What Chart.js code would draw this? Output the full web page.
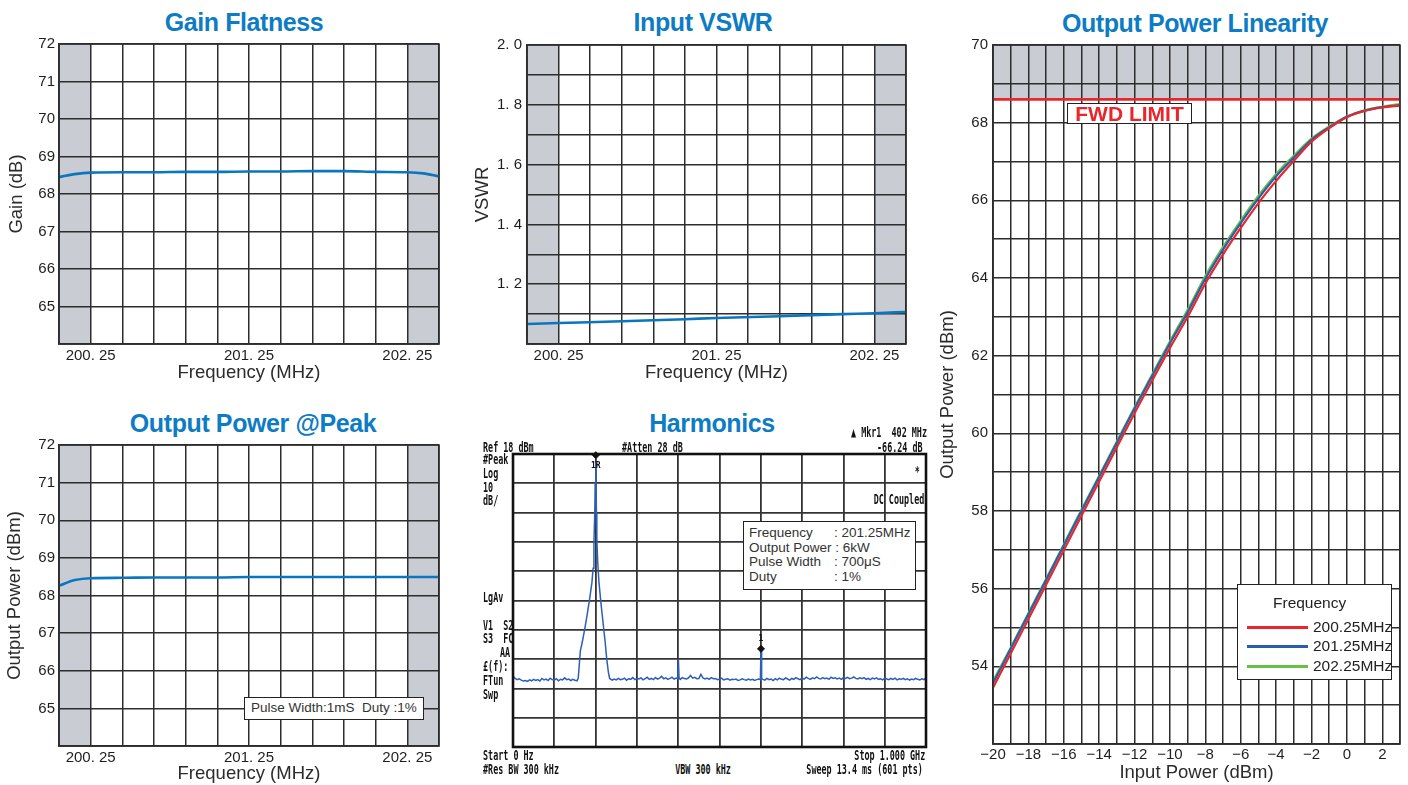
<!DOCTYPE html>
<html>
<head>
<meta charset="utf-8">
<script src="https://cdn.jsdelivr.net/npm/chart.js@4.4.1/dist/chart.umd.min.js"></script>
<style>
  body { margin: 0; width: 1408px; height: 785px; background: #fff; position: relative; overflow: hidden;
         font-family: "Liberation Sans", Arial, sans-serif; }
  canvas { position: absolute; }
  .title { position: absolute; color: #0d7cc4; font: bold 25px "Liberation Sans", Arial, sans-serif;
           letter-spacing: -0.4px; transform: translate(-50%, -50%); white-space: nowrap; }
  .box { position: absolute; background: #fff; border: 1.5px solid #222; box-sizing: border-box; }
  .sa { position: absolute; font: bold 14.5px "DejaVu Sans Mono", "Liberation Mono", monospace; color: #111;
        white-space: pre; line-height: 14px; transform: translateY(-50%) scaleX(0.58); transform-origin: left center; }
  .sa.r { transform-origin: right center; }
  .sa.c { transform: translate(-50%, -50%) scaleX(0.58); transform-origin: center center; }
  .info { font-size: 13.5px; color: #333; line-height: 14.7px; white-space: pre; }
  .info span { display: inline-block; width: 85px; }
  .lg { position: absolute; font: 15.5px "Liberation Sans", Arial, sans-serif; color: #222; line-height: 18px; }
  .lgline { position: absolute; height: 3px; width: 61px; left: 9px; }
</style>
</head>
<body>
<div class="title" style="left:244px;top:22px">Gain Flatness</div>
<div class="title" style="left:703px;top:22px">Input VSWR</div>
<div class="title" style="left:253px;top:423px">Output Power @Peak</div>
<div class="title" style="left:712px;top:423px">Harmonics</div>
<div class="title" style="left:1195px;top:23px">Output Power Linearity</div>

<canvas id="cGain" width="450" height="353" style="left:0;top:31px"></canvas>
<canvas id="cVswr" width="450" height="353" style="left:470px;top:31px"></canvas>
<canvas id="cPeak" width="450" height="353" style="left:0;top:432px"></canvas>
<canvas id="cHarm" width="437" height="317" style="left:501px;top:442px"></canvas>
<canvas id="cLin" width="471" height="753" style="left:937px;top:31px"></canvas>

<!-- spectrum analyser screen texts -->
<div class="sa" style="left:483px;top:447px">Ref 18 dBm</div>
<div class="sa" style="left:622px;top:447px">#Atten 28 dB</div>
<div class="sa r" style="right:481px;top:432px">▲ Mkr1  402 MHz</div>
<div class="sa r" style="right:485px;top:447px">-66.24 dB</div>
<div class="sa" style="left:483px;top:459px">#Peak</div>
<div class="sa" style="left:483px;top:473px">Log</div>
<div class="sa" style="left:483px;top:487px">10</div>
<div class="sa" style="left:483px;top:500px">dB/</div>
<div class="sa" style="left:483px;top:597px">LgAv</div>
<div class="sa" style="left:483px;top:625px">V1  S2</div>
<div class="sa" style="left:483px;top:638px">S3  FC</div>
<div class="sa" style="left:500px;top:652px">AA</div>
<div class="sa" style="left:483px;top:666px">£(f):</div>
<div class="sa" style="left:483px;top:680px">FTun</div>
<div class="sa" style="left:483px;top:694px">Swp</div>
<div class="sa r" style="right:488px;top:471px">*</div>
<div class="sa r" style="right:484px;top:499px">DC Coupled</div>
<div class="sa" style="left:483px;top:755px">Start 0 Hz</div>
<div class="sa" style="left:483px;top:769px">#Res BW 300 kHz</div>
<div class="sa c" style="left:703px;top:769px">VBW 300 kHz</div>
<div class="sa r" style="right:483px;top:755px">Stop 1.000 GHz</div>
<div class="sa r" style="right:485px;top:769px">Sweep 13.4 ms (601 pts)</div>

<div class="box" style="left:743px;top:521px;width:173px;height:69px;padding:4px 0 0 5px">
  <div class="info"><span>Frequency</span>: 201.25MHz</div>
  <div class="info">Output Power : 6kW</div>
  <div class="info"><span>Pulse Width</span>: 700μS</div>
  <div class="info"><span>Duty</span>: 1%</div>
</div>

<div class="box" style="left:244px;top:697px;width:180px;height:23px;padding-left:6px">
  <div class="info" style="line-height:20px">Pulse Width:1mS  Duty :1%</div>
</div>

<div class="box" style="left:1067px;top:103px;width:125px;height:21px;text-align:center;
     font:bold 21px 'Liberation Sans', Arial, sans-serif;color:#e8262b;line-height:19px">FWD LIMIT</div>

<div class="box" style="left:1237px;top:584px;width:155px;height:96px">
  <div class="lg" style="left:35px;top:9px">Frequency</div>
  <div class="lgline" style="top:41px;background:#e8262b"></div>
  <div class="lg" style="left:75px;top:33px">200.25MHz</div>
  <div class="lgline" style="top:60px;background:#2a5db0"></div>
  <div class="lg" style="left:75px;top:52px">201.25MHz</div>
  <div class="lgline" style="top:80px;background:#6abf45"></div>
  <div class="lg" style="left:75px;top:72px">202.25MHz</div>
</div>

<script>
// ---------- data ----------
// frequency sweep (MHz) for gain / output power
const sweepFreq = [200.05, 200.15, 200.25, 200.45, 200.65, 200.85, 201.05, 201.25, 201.45, 201.65, 201.85, 202.05, 202.25, 202.35, 202.45];
const gainDb = [68.45, 68.53, 68.57, 68.58, 68.58, 68.59, 68.59, 68.60, 68.60, 68.61, 68.61, 68.59, 68.58, 68.55, 68.47];
const peakDbm = [68.26, 68.41, 68.46, 68.47, 68.48, 68.48, 68.48, 68.49, 68.49, 68.49, 68.49, 68.49, 68.49, 68.49, 68.49];

const vswrFreq = [200.05, 200.25, 200.65, 201.05, 201.25, 201.65, 202.05, 202.25, 202.45];
const vswrVal = [1.067, 1.070, 1.076, 1.083, 1.087, 1.093, 1.100, 1.103, 1.107];

const freqGrid = [200.05, 200.25, 200.45, 200.65, 200.85, 201.05, 201.25, 201.45, 201.65, 201.85, 202.05, 202.25, 202.45];
const freqLabels = [200.25, 201.25, 202.25];
const outBand = [[200.05, 200.25], [202.25, 202.45]];
const dbGrid = [64, 65, 66, 67, 68, 69, 70, 71, 72];
const dbLabels = [65, 66, 67, 68, 69, 70, 71, 72];
const vswrGrid = [1.0, 1.1, 1.2, 1.3, 1.4, 1.5, 1.6, 1.7, 1.8, 1.9, 2.0];
const vswrLabels = [1.2, 1.4, 1.6, 1.8, 2.0];

// output power linearity
const inputPower = [-20, -19, -18, -17, -16, -15, -14, -13, -12, -11, -10, -9, -8, -7, -6, -5, -4, -3, -2, -1, 0, 1, 2, 3];
const out20025 = [53.45, 54.33, 55.22, 56.10, 56.99, 57.88, 58.76, 59.64, 60.52, 61.36, 62.20, 63.00, 63.86, 64.61, 65.29, 65.93, 66.50, 67.02, 67.51, 67.86, 68.14, 68.30, 68.39, 68.44];
const out20125 = [53.57, 54.45, 55.34, 56.22, 57.11, 58.00, 58.88, 59.76, 60.64, 61.48, 62.32, 63.12, 63.98, 64.73, 65.41, 66.05, 66.62, 67.10, 67.56, 67.88, 68.15, 68.31, 68.40, 68.45];
const out20225 = [53.62, 54.48, 55.37, 56.25, 57.14, 58.03, 58.91, 59.79, 60.67, 61.52, 62.37, 63.18, 64.05, 64.80, 65.48, 66.12, 66.68, 67.15, 67.59, 67.90, 68.16, 68.32, 68.41, 68.48];
const fwdLimit = 68.6;
const linYGrid = [52, 53, 54, 55, 56, 57, 58, 59, 60, 61, 62, 63, 64, 65, 66, 67, 68, 69, 70];
const linYLabels = [54, 56, 58, 60, 62, 64, 66, 68, 70];
const linXLabels = [-20, -18, -16, -14, -12, -10, -8, -6, -4, -2, 0, 2];

// harmonics trace (spectrum analyser, MHz / dBm)
const harmFreq = [
  0, 5, 10, 15, 20, 25, 30, 35, 40, 45, 50, 55, 60, 65, 70, 75, 80, 85, 90, 95, 100, 105, 110, 115, 120, 125, 130, 135, 140, 145, 150, 155,
  158, 163, 168, 174, 180, 186, 191, 194, 196, 198, 199, 200.5, 202, 203, 205, 208, 213, 218, 223, 227, 231, 234,
  240, 245, 250, 255, 260, 265, 270, 275, 280, 285, 290, 295, 300, 305, 310, 315, 320, 325, 330, 335, 340, 345, 350, 355, 360, 365, 370, 375, 380, 385, 390, 395,
  399, 400.5, 402,
  405, 410, 415, 420, 425, 430, 435, 440, 445, 450, 455, 460, 465, 470, 475, 480, 485, 490, 495, 500, 505, 510, 515, 520, 525, 530, 535, 540, 545, 550, 555, 560, 565, 570, 575, 580, 585, 590, 595,
  599, 600.5, 602,
  605, 610, 615, 620, 625, 630, 635, 640, 645, 650,
  655, 660, 665, 670, 675, 680, 685, 690, 695, 700,
  705, 710, 715, 720, 725, 730, 735, 740, 745, 750,
  755, 760, 765, 770, 775, 780, 785, 790, 795, 800,
  805, 810, 815, 820, 825, 830, 835, 840, 845, 850,
  855, 860, 865, 870, 875, 880, 885, 890, 895, 900,
  905, 910, 915, 920, 925, 930, 935, 940, 945, 950,
  955, 960, 965, 970, 975, 980, 985, 990, 995, 1000
];
const harmLevel = [
  -57.8, -58.6, -59.0, -58.7, -59.2, -59.5, -59.3, -59.6, -59.1, -59.4, -58.9, -59.3, -59.0, -59.5, -58.6, -59.1,
  -58.8, -59.3, -58.5, -59.0, -59.2, -58.7, -59.4, -58.9, -59.1, -58.4, -59.0, -58.8, -59.3, -58.9, -59.2, -59.4,
  -58.5, -49.3, -46.0, -41.5, -36.5, -31.0, -26.0, -21.0, -12.0, -2.0, 8.0, 15.0, -2.0, -11.0, -18.5, -25.5, -33.0, -39.5, -46.0, -52.0, -56.5, -58.6,
  -59.2, -58.8, -59.1, -58.6, -59.0, -58.9, -58.5, -59.2, -58.7, -58.9, -58.3, -59.0, -58.6, -58.8, -58.4, -59.1,
  -58.7, -58.2, -58.9, -58.6, -59.0, -58.3, -58.8, -58.5, -57.9, -58.7, -58.4, -58.9, -58.6, -58.2, -58.8, -58.5,
  -58.6, -52.0, -58.4,
  -58.9, -58.3, -58.6, -58.8, -58.4, -57.6, -58.5, -58.2, -58.7, -58.6, -57.2, -58.4, -58.8, -58.5, -58.9, -58.3,
  -58.7, -58.6, -59.0, -58.8, -58.5, -59.1, -58.9, -58.7, -59.2, -58.9, -59.0, -58.8, -59.3, -59.1, -58.7, -59.0,
  -59.2, -58.8, -59.1, -58.9, -59.3, -59.0, -58.8,
  -59.0, -48.6, -58.7,
  -58.9, -59.2, -58.6, -59.0, -58.8, -59.3, -58.7, -59.1, -58.5, -58.9,
  -59.0, -58.4, -58.8, -59.2, -58.6, -58.9, -58.3, -58.7, -59.0, -58.5,
  -58.8, -58.2, -58.6, -58.9, -58.4, -58.7, -58.1, -58.6, -58.8, -58.3,
  -58.7, -58.5, -58.9, -58.2, -58.6, -58.4, -58.8, -58.5, -58.9, -58.3,
  -58.6, -58.2, -58.7, -58.5, -58.1, -58.6, -58.8, -58.4, -58.7, -58.3,
  -58.9, -58.6, -59.0, -58.5, -58.8, -58.4, -58.9, -58.7, -59.1, -58.6,
  -58.8, -59.0, -58.6, -58.9, -58.5, -59.1, -58.7, -58.9, -58.6, -59.0,
  -58.7, -59.2, -58.8, -59.0, -58.6, -58.9, -59.1, -58.7, -59.0, -58.4
];
const harmXGrid = [0, 100, 200, 300, 400, 500, 600, 700, 800, 900, 1000];
const harmYGrid = [-82, -72, -62, -52, -42, -32, -22, -12, -2, 8, 18];
const mkrFreq = [200.5, 600.5];
const mkrLevel = [17.6, -48.5];
const mkrText = ['1R', '1'];

// ---------- styling ----------
const SANS = '"Liberation Sans", Arial, sans-serif';
const GRID = '#2d2d2d';
const BLUE = '#0b76c0';
Chart.defaults.font.family = SANS;
Chart.defaults.animation = false;
Chart.defaults.elements.point.radius = 0;

const pts = (xs, ys) => xs.map((x, i) => ({ x: x, y: ys[i] }));
const freqFmt = v => v.toFixed(2).replace('.', '. ');
const vswrFmt = v => v.toFixed(1).replace('.', '. ');
const minusFmt = v => (v < 0 ? '\u2212' + (-v) : String(v));

// grey bands behind the grid
const bandPlugin = {
  id: 'bands',
  beforeDraw(chart, args, opts) {
    if (!opts.ranges) return;
    const { ctx, chartArea: a, scales } = chart;
    ctx.save();
    ctx.fillStyle = '#c9ccd3';
    opts.ranges.forEach(([lo, hi]) => {
      if (opts.axis === 'x') {
        const x0 = scales.x.getPixelForValue(lo), x1 = scales.x.getPixelForValue(hi);
        ctx.fillRect(x0, a.top, x1 - x0, a.bottom - a.top);
      } else {
        const y0 = scales.y.getPixelForValue(hi), y1 = scales.y.getPixelForValue(lo);
        ctx.fillRect(a.left, y0, a.right - a.left, y1 - y0);
      }
    });
    ctx.restore();
  }
};

// plot frame
const framePlugin = {
  id: 'frame',
  afterDraw(chart, args, opts) {
    const { ctx, chartArea: a } = chart;
    ctx.save();
    ctx.strokeStyle = opts.color || GRID;
    ctx.lineWidth = opts.width || 1.5;
    ctx.strokeRect(a.left, a.top, a.right - a.left, a.bottom - a.top);
    ctx.restore();
  }
};

// marker numbers on the analyser trace
const markerPlugin = {
  id: 'mkr',
  afterDatasetsDraw(chart) {
    const { ctx, scales: { x, y } } = chart;
    const offs = [11, -10];
    ctx.save();
    ctx.font = 'bold 8px "DejaVu Sans Mono", monospace';
    ctx.fillStyle = '#111';
    ctx.textAlign = 'center';
    ctx.textBaseline = 'middle';
    mkrFreq.forEach((f, i) => {
      ctx.fillText(mkrText[i], x.getPixelForValue(f), y.getPixelForValue(mkrLevel[i]) + offs[i]);
    });
    ctx.restore();
  }
};

function axis(p) {
  return {
    type: 'linear', min: p.min, max: p.max,
    afterBuildTicks: s => { s.ticks = p.grid.map(v => ({ value: v })); },
    afterFit: s => { if (p.horizontal) s.height = p.size; else s.width = p.size; },
    ticks: {
      display: !!p.labels, autoSkip: false, maxRotation: 0, minRotation: 0,
      padding: p.pad || 0, color: '#1e1e1e', font: { size: 15 },
      callback: v => (p.labels && p.labels.includes(v) ? p.fmt(v) : '')
    },
    grid: { color: p.color || GRID, lineWidth: p.width || 1.5, drawTicks: false },
    border: { color: p.color || GRID, width: p.width || 1.5 },
    title: p.title
      ? { display: true, text: p.title, color: '#2b2b2b', font: { size: 18.5 }, padding: { top: p.titlePad || 0, bottom: 0 } }
      : { display: false }
  };
}

function makeChart(id, datasets, scales, padding, pluginOpts, extra) {
  return new Chart(document.getElementById(id), {
    type: 'line',
    data: { datasets: datasets },
    options: {
      responsive: false,
      layout: { padding: padding },
      scales: scales,
      plugins: Object.assign({ legend: { display: false }, tooltip: { enabled: false } }, pluginOpts)
    },
    plugins: [bandPlugin, framePlugin].concat(extra || [])
  });
}

const freqAxis = size => axis({ horizontal: true, min: 200.05, max: 202.45, grid: freqGrid, labels: freqLabels,
  fmt: freqFmt, size: size, pad: 3, title: 'Frequency (MHz)' });
const curve = (data, color, w) => ({ data: data, borderColor: color, borderWidth: w, cubicInterpolationMode: 'monotone' });

// Gain Flatness
makeChart('cGain', [curve(pts(sweepFreq, gainDb), BLUE, 2.6)], {
  x: freqAxis(40),
  y: axis({ min: 64, max: 72, grid: dbGrid, labels: dbLabels, fmt: String, size: 59, pad: 4, title: 'Gain (dB)', titlePad: 6 })
}, { top: 12, right: 11, bottom: 0, left: 0 }, { bands: { axis: 'x', ranges: outBand } });

// Input VSWR
makeChart('cVswr', [curve(pts(vswrFreq, vswrVal), BLUE, 2.6)], {
  x: freqAxis(40),
  y: axis({ min: 1.0, max: 2.0, grid: vswrGrid, labels: vswrLabels, fmt: vswrFmt, size: 57, pad: 5, title: 'VSWR', titlePad: 2 })
}, { top: 12, right: 14, bottom: 0, left: 0 }, { bands: { axis: 'x', ranges: outBand } });

// Output Power @Peak
makeChart('cPeak', [curve(pts(sweepFreq, peakDbm), BLUE, 2.6)], {
  x: freqAxis(39),
  y: axis({ min: 64, max: 72, grid: dbGrid, labels: dbLabels, fmt: String, size: 59, pad: 4, title: 'Output Power (dBm)', titlePad: 4 })
}, { top: 12, right: 11, bottom: 0, left: 0 }, { bands: { axis: 'x', ranges: outBand } });

// Harmonics
makeChart('cHarm', [
  { data: pts(mkrFreq, mkrLevel), showLine: false, pointStyle: 'rectRot', pointRadius: 3.5,
    pointBackgroundColor: '#111', pointBorderColor: '#111', clip: false },
  { data: pts(harmFreq, harmLevel), borderColor: '#2d5fb8', borderWidth: 1.5, tension: 0 }
], {
  x: axis({ horizontal: true, min: 0, max: 1000, grid: harmXGrid, size: 0, color: '#333', width: 1.8 }),
  y: axis({ min: -82, max: 18, grid: harmYGrid, size: 0, color: '#333', width: 1.8 })
}, 12, { frame: { color: '#111', width: 2.6 } }, [markerPlugin]);

// Output Power Linearity
makeChart('cLin', [
  Object.assign(curve(pts(inputPower, out20025), '#e8262b', 2.2), { order: 1 }),
  Object.assign(curve(pts(inputPower, out20125), '#2a5db0', 2.2), { order: 2 }),
  Object.assign(curve(pts(inputPower, out20225), '#6abf45', 2.2), { order: 3 }),
  { data: [{ x: -20, y: fwdLimit }, { x: 3, y: fwdLimit }], borderColor: '#e8262b', borderWidth: 2.8, order: 0 }
], {
  x: axis({ horizontal: true, min: -20, max: 3, grid: inputPower, labels: linXLabels, fmt: minusFmt, size: 40, pad: 2, title: 'Input Power (dBm)' }),
  y: axis({ min: 52, max: 70, grid: linYGrid, labels: linYLabels, fmt: String, size: 56, pad: 5, title: 'Output Power (dBm)', titlePad: 0 })
}, { top: 12, right: 8, bottom: 0, left: 0 }, { bands: { axis: 'y', ranges: [[fwdLimit, 70]] } });
</script>
</body>
</html>
